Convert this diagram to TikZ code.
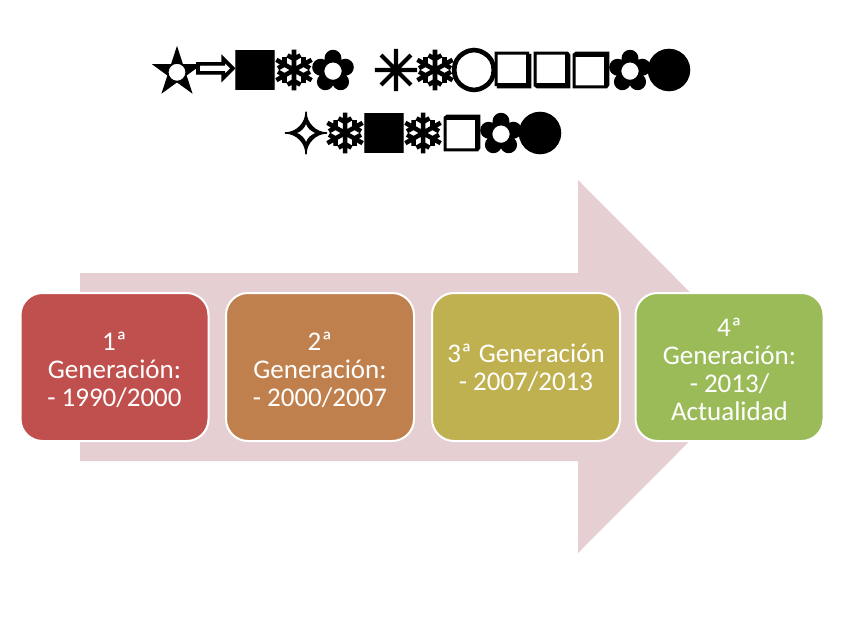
\documentclass[tikz,border=0pt]{standalone}
\usepackage{fontspec}
\setmainfont{Carlito}
\newfontfamily\symf[FakeBold=2.5]{DejaVu Sans}
\definecolor{arrowpink}{HTML}{E6CFD2}
\definecolor{genred}{HTML}{C0504D}
\definecolor{genorange}{HTML}{C0804D}
\definecolor{genolive}{HTML}{BFB050}
\definecolor{gengreen}{HTML}{9BBB59}
\newcommand\wg[2]{\makebox[39pt]{$\vcenter{\hbox{\fontsize{#1}{#1}\symf #2}}$}}
\tikzset{
  genbox/.style={rectangle, rounded corners=22pt, draw=white, line width=2pt,
    minimum width=188pt, minimum height=148pt, inner sep=0pt},
  gentext/.style={text width=180pt, align=center, text=white,
    font=\fontsize{27}{28}\selectfont, inner sep=0pt},
  titleline/.style={inner sep=0pt, anchor=center}
}
\newcommand\dsh{-\hspace{6pt}}
\begin{document}
\begin{tikzpicture}[x=1pt,y=-1pt]
\useasboundingbox (0,0) rectangle (848,636);
\fill[white] (0,0) rectangle (848,636);
% title (symbol font)
\node[titleline] (t1) at (423,70) {\wg{58}{✫}\wg{50}{⇨}\wg{50}{■}\wg{54}{❄}\wg{55}{✿}\hspace{24pt}\wg{56}{✳}\wg{54}{❄}\wg{56}{○}\wg{46}{❏}\wg{46}{❑}\wg{46}{❒}\wg{55}{✿}\wg{54}{●}};
\node[titleline] (t2) at (423,133) {\wg{56}{✧}\wg{54}{❄}\wg{50}{■}\wg{54}{❄}\wg{46}{❒}\wg{55}{✿}\wg{54}{●}};
% big background arrow
\fill[arrowpink] (80,273) -- (578,273) -- (578,180) -- (764,366.5) -- (578,553) -- (578,461) -- (80,461) -- cycle;
% generation boxes
\node[genbox, fill=genred] (g1) at (114.5,367) {};
\node[genbox, fill=genorange] (g2) at (320,367) {};
\node[genbox, fill=genolive] (g3) at (526,367) {};
\node[genbox, fill=gengreen] (g4) at (729.5,367) {};
\node[gentext] (l1) at ([yshift=-3pt]g1.center) {1ª\\Generación:\\\dsh1990/2000};
\node[gentext] (l2) at ([yshift=-3pt]g2.center) {2ª\\Generación:\\\dsh2000/2007};
\node[gentext] (l3) at ([yshift=-1pt]g3.center) {3ª\kern-2pt{} Generación\\\dsh2007/2013};
\node[gentext] (l4) at ([yshift=-2pt]g4.center) {4ª\\Generación:\\\dsh2013/\\Actualidad};
\end{tikzpicture}
\end{document}
